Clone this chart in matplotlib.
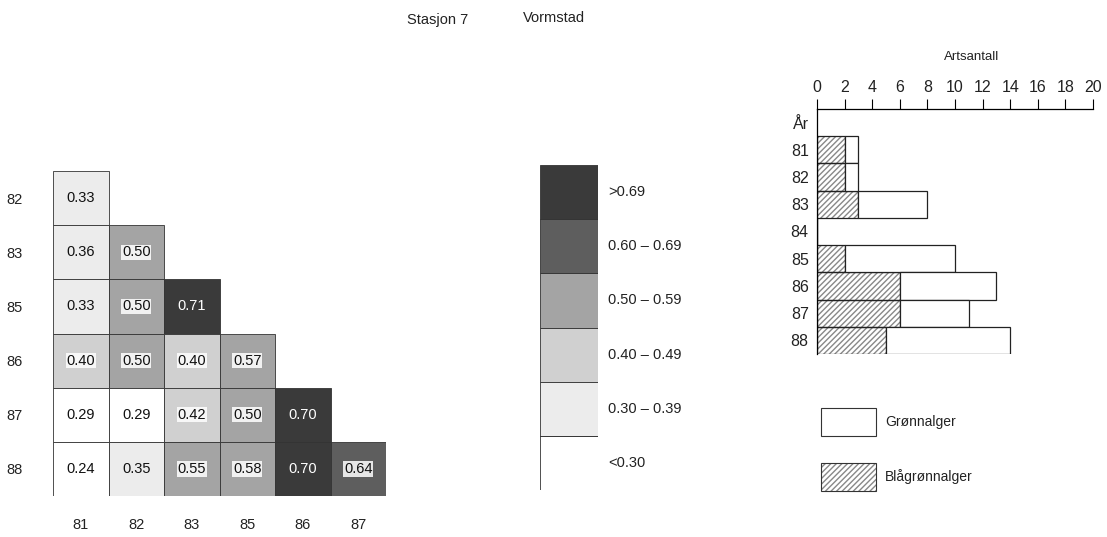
import numpy as np
import matplotlib
matplotlib.use("Agg")
import matplotlib.pyplot as plt
from matplotlib.patches import Rectangle

plt.rcParams['font.family'] = ['Liberation Sans', 'DejaVu Sans']

# ---------------- data ----------------
title_left = "Stasjon 7"
title_right = "Vormstad"

row_years = ["82", "83", "85", "86", "87", "88"]
col_years = ["81", "82", "83", "85", "86", "87"]
sim_82 = [0.33]
sim_83 = [0.36, 0.50]
sim_85 = [0.33, 0.50, 0.71]
sim_86 = [0.40, 0.50, 0.40, 0.57]
sim_87 = [0.29, 0.29, 0.42, 0.50, 0.70]
sim_88 = [0.24, 0.35, 0.55, 0.58, 0.70, 0.64]
sim_rows = [sim_82, sim_83, sim_85, sim_86, sim_87, sim_88]

class_bounds = [0.30, 0.40, 0.50, 0.60, 0.70]
class_labels = ["<0.30", "0.30 – 0.39", "0.40 – 0.49", "0.50 – 0.59", "0.60 – 0.69", ">0.69"]
class_colors = ["#ffffff", "#ececec", "#d0d0d0", "#a4a4a4", "#5e5e5e", "#3a3a3a"]

bar_years = ["81", "82", "83", "84", "85", "86", "87", "88"]
blagronn = [2, 2, 3, 0, 2, 6, 6, 5]      # Blågrønnalger
gronn = [1, 1, 5, 0, 8, 7, 5, 9]         # Grønnalger (stacked on top)
x_ticks = [0, 2, 4, 6, 8, 10, 12, 14, 16, 18, 20]

# ---------------- figure ----------------
W, H = 1107, 537
fig = plt.figure(figsize=(W / 100, H / 100), dpi=100)

def fax(x0, y0, x1, y1):
    return fig.add_axes([x0 / W, 1 - y1 / H, (x1 - x0) / W, (y1 - y0) / H])

fig.text(407 / W, 1 - 20 / H, title_left, ha="left", va="center", fontsize=10.5, color="#222222")
fig.text(523 / W, 1 - 18 / H, title_right, ha="left", va="center", fontsize=10.5, color="#222222")

# ---------------- similarity matrix ----------------
ax = fax(53, 171, 386, 496)
n = len(col_years)
for i, row in enumerate(sim_rows):
    for j, v in enumerate(row):
        k = int(np.digitize(v, class_bounds))
        ax.add_patch(Rectangle((j, i), 1, 1, facecolor=class_colors[k],
                               edgecolor="#333333", linewidth=0.6))
        if k == 5:
            ax.text(j + 0.5, i + 0.5, f"{v:.2f}", ha="center", va="center",
                    fontsize=10.5, color="white")
        elif k >= 2:
            ax.text(j + 0.5, i + 0.5, f"{v:.2f}", ha="center", va="center",
                    fontsize=10.5, color="#111111",
                    bbox=dict(boxstyle="square,pad=0.05", facecolor="white",
                              edgecolor="none", alpha=0.85))
        else:
            ax.text(j + 0.5, i + 0.5, f"{v:.2f}", ha="center", va="center",
                    fontsize=10.5, color="#111111")
ax.set_xlim(0, n)
ax.set_ylim(len(row_years), 0)
ax.set_yticks(np.arange(len(row_years)) + 0.5)
ax.set_yticklabels(row_years, fontsize=10.5, color="#222222")
ax.set_xticks(np.arange(n) + 0.5)
ax.set_xticklabels(col_years, fontsize=10.5, color="#222222")
ax.tick_params(length=0)
ax.tick_params(axis="y", pad=22)
ax.tick_params(axis="x", pad=16)
for s in ax.spines.values():
    s.set_visible(False)

# ---------------- class legend ----------------
lax = fax(540, 165, 598, 490)
nc = len(class_labels)
for k in range(nc):
    y = nc - 1 - k
    if k == 0:
        lax.add_patch(Rectangle((0, y), 1, 1, facecolor=class_colors[k], edgecolor="none"))
        lax.plot([0, 0], [y, y + 1], color="#333333", lw=0.6)
        lax.plot([1, 1], [y, y + 1], color="#333333", lw=0.6)
        lax.plot([0, 1], [y, y], color="#333333", lw=0.6)
    else:
        lax.add_patch(Rectangle((0, y), 1, 1, facecolor=class_colors[k],
                                edgecolor="#333333", linewidth=0.6))
    lax.text(1.18, y + 0.5, class_labels[k], ha="left", va="center",
             fontsize=10.5, color="#222222")
lax.set_xlim(0, 1)
lax.set_ylim(nc, 0)
lax.axis("off")

# ---------------- species count bars ----------------
bax = fax(817, 109, 1093, 354)
ypos = np.arange(1, len(bar_years) + 1)
bax.barh(ypos, blagronn, height=1.0, facecolor="white", edgecolor="#888888",
         hatch="//////", linewidth=0)
bax.barh(ypos, blagronn, height=1.0, facecolor="none", edgecolor="#222222", linewidth=0.9)
bax.barh(ypos, gronn, left=blagronn, height=1.0, facecolor="white",
         edgecolor="#222222", linewidth=0.9)
bax.set_xlim(0, 20)
bax.set_ylim(len(bar_years) + 0.5, -0.5)
bax.set_yticks(np.arange(0, len(bar_years) + 1))
bax.set_yticklabels(["År"] + bar_years, fontsize=11.5, color="#222222")
bax.xaxis.tick_top()
bax.set_xticks(x_ticks)
bax.set_xticklabels([str(t) for t in x_ticks], fontsize=11.5, color="#222222")
bax.tick_params(axis="x", direction="out", length=7, width=0.8, pad=3)
bax.tick_params(axis="y", length=0, pad=6)
bax.spines["right"].set_visible(False)
bax.spines["bottom"].set_visible(False)
bax.spines["top"].set_linewidth(0.9)
bax.spines["left"].set_linewidth(0.9)
fig.text(972 / W, 1 - 57 / H, "Artsantall", ha="center", va="center",
         fontsize=9.5, color="#222222")

# legend for bars
lg = fax(815, 400, 1000, 500)
lg.set_xlim(0, 185)
lg.set_ylim(100, 0)
lg.axis("off")
lg.add_patch(Rectangle((6, 8), 55, 28, facecolor="white", edgecolor="#333333", linewidth=0.8))
lg.text(70, 22, "Grønnalger", ha="left", va="center", fontsize=10, color="#222222")
lg.add_patch(Rectangle((6, 63), 55, 28, facecolor="white", edgecolor="#888888",
                       hatch="//////", linewidth=0))
lg.add_patch(Rectangle((6, 63), 55, 28, facecolor="none", edgecolor="#333333", linewidth=0.8))
lg.text(70, 77, "Blågrønnalger", ha="left", va="center", fontsize=10, color="#222222")

fig.savefig("out.png", dpi=100)
